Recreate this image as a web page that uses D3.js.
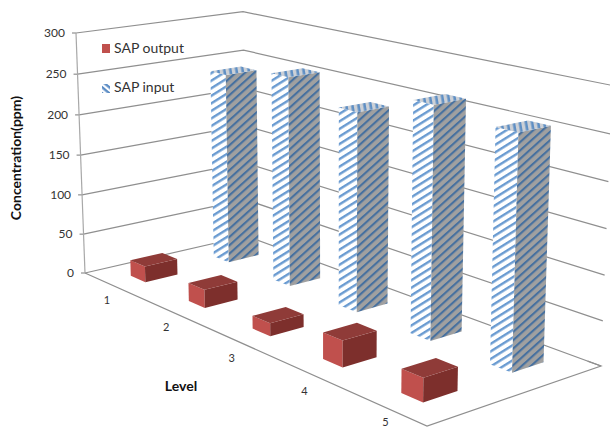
<!DOCTYPE html>
<html><head><meta charset="utf-8">
<script src="https://cdn.jsdelivr.net/npm/d3@7"></script>
<style>html,body{margin:0;background:#fff}svg{display:block}text{font-family:Lato,"Open Sans",sans-serif;fill:#333}</style>
</head><body><svg id="chart" width="610" height="427"></svg>
<script>
const levels = [1, 2, 3, 4, 5];
const outputValues = [20, 22, 15, 30, 26];
const inputValues = [240, 256, 235, 264, 256];
const valueTicks = [0, 50, 100, 150, 200, 250, 300];
const seriesNames = ["SAP output", "SAP input"];

// Screen anchors of the 3D box: floor corners and the top of the two wall edges
const floorCorners = [[85, 273], [427, 426], [601, 366], [246, 236]];
const topLeft = [76, 33], backTopX = 243;

function floorHomography([p0, p1, p2, p3]) {
  const dx1 = p1[0]-p2[0], dx2 = p3[0]-p2[0], sx = p0[0]-p1[0]+p2[0]-p3[0];
  const dy1 = p1[1]-p2[1], dy2 = p3[1]-p2[1], sy = p0[1]-p1[1]+p2[1]-p3[1];
  const den = dx1*dy2-dx2*dy1;
  const g = (sx*dy2-dx2*sy)/den, h = (dx1*sy-sx*dy1)/den;
  return {
    A: [p1[0]-p0[0]+g*p1[0], p1[1]-p0[1]+g*p1[1], g],
    B: [p3[0]-p0[0]+h*p3[0], p3[1]-p0[1]+h*p3[1], h],
    D: [p0[0], p0[1], 1]
  };
}
const {A, B, D} = floorHomography(floorCorners);
const alpha = (B[0]-backTopX*B[2])/(backTopX-topLeft[0]);
const C = [alpha*topLeft[0]-D[0], alpha*topLeft[1]-D[1], alpha-D[2]];

// u runs along the level axis, v into the depth, w up the value axis
function project(u, v, w) {
  const p = [0,1,2].map(i => u*A[i]+v*B[i]+w*C[i]+D[i]);
  return [p[0]/p[2], p[1]/p[2]];
}

const valueScale = d3.scaleLinear().domain([0, 300]).range([0, 1]);
const levelScale = d3.scaleBand().domain(levels).range([0, 1]);
const depthScale = d3.scaleOrdinal().domain(seriesNames).range([0.15, 0.655]);
const barU = 0.052, barV = 0.19;

const svg = d3.select("#chart");
const defs = svg.append("defs");
function hatch(id, bg, fg, angle, period, thick) {
  const p = defs.append("pattern").attr("id", id).attr("patternUnits", "userSpaceOnUse")
    .attr("width", period).attr("height", period)
    .attr("patternTransform", `rotate(${angle})`);
  p.append("rect").attr("width", period).attr("height", period).attr("fill", bg);
  p.append("rect").attr("width", period).attr("height", thick).attr("fill", fg);
}
hatch("hatchFront", "#ffffff", "#6a9bd1", -32, 6.4, 2.4);
hatch("hatchSide", "#a0a0a0", "#46709f", -42, 6.2, 2.1);
hatch("hatchTop", "#ccd0d6", "#5f8fc4", 80, 6, 2.6);
hatch("hatchKey", "#ffffff", "#5b8cc4", 40, 4.6, 2.4);

const gridColor = "#8f8f8f";
const line = d3.line();
const grid = svg.append("g").attr("fill", "none").attr("stroke", gridColor).attr("stroke-width", 1.2);

// Wall gridlines with their ticks and labels
valueTicks.forEach(t => {
  const w = valueScale(t);
  grid.append("path").attr("d", line([project(0,0,w), project(0,1,w), project(1,1,w)]));
  const [x, y] = project(0,0,w);
  grid.append("line").attr("x1", x-4).attr("x2", x).attr("y1", y).attr("y2", y);
  svg.append("text").attr("x", x-11).attr("y", y+4).attr("text-anchor", "end")
    .attr("font-size", 12).text(t);
});
// Value axis and floor outline
grid.append("path").attr("stroke", "#a8a8a8").attr("d", line([project(0,0,1), project(0,0,0)]));
grid.append("path").attr("d", line([project(0,0,0), project(1,0,0), project(1,1,0), project(0.97,1,0)]));

// Level labels below the front floor edge, kept inside the drawing
levels.forEach(l => {
  const [x, y] = project(levelScale(l)+levelScale.bandwidth()/2+0.06, -0.125, 0);
  svg.append("text").attr("x", x).attr("y", Math.min(y+6, 426)).attr("text-anchor", "middle")
    .attr("font-size", 11).text(l);
});

function drawBar(g, level, series, value, fills) {
  const uc = levelScale(level)+levelScale.bandwidth()/2, v0 = depthScale(series);
  const u0 = uc-barU/2, u1 = uc+barU/2, v1 = v0+barV, w = valueScale(value);
  const face = pts => g.append("path").attr("d", line(pts)+"Z");
  face([project(u0,v0,0), project(u1,v0,0), project(u1,v0,w), project(u0,v0,w)]).attr("fill", fills[0]);
  face([project(u1,v0,0), project(u1,v1,0), project(u1,v1,w), project(u1,v0,w)]).attr("fill", fills[1]);
  face([project(u0,v0,w), project(u1,v0,w), project(u1,v1,w), project(u0,v1,w)]).attr("fill", fills[2]);
}
const bars = svg.append("g");
levels.forEach((l, i) => drawBar(bars, l, seriesNames[1], inputValues[i],
  ["url(#hatchFront)", "url(#hatchSide)", "url(#hatchTop)"]));
levels.forEach((l, i) => drawBar(bars, l, seriesNames[0], outputValues[i],
  ["#c0504d", "#7d2f2c", "#8f3b38"]));

// Legend
svg.append("rect").attr("x", 102).attr("y", 44).attr("width", 8).attr("height", 9).attr("fill", "#c0504d");
svg.append("text").attr("x", 114).attr("y", 53).attr("font-size", 14).text(seriesNames[0]);
svg.append("rect").attr("x", 102).attr("y", 84).attr("width", 8).attr("height", 9).attr("fill", "url(#hatchKey)");
svg.append("text").attr("x", 114).attr("y", 92).attr("font-size", 14).text(seriesNames[1]);

// Axis titles
svg.append("text").attr("transform", "translate(21,158) rotate(-90)").attr("text-anchor", "middle")
  .attr("font-size", 14).attr("font-weight", 700).style("fill", "#111").text("Concentration(ppm)");
svg.append("text").attr("x", 181).attr("y", 391).attr("text-anchor", "middle")
  .attr("font-size", 14).attr("font-weight", 700).style("fill", "#111").text("Level");
</script></body></html>
